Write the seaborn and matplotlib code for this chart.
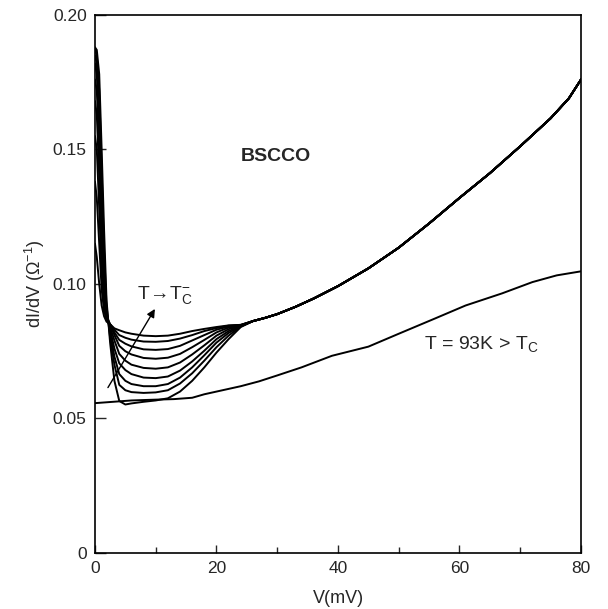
import numpy as np
import pandas as pd
import seaborn as sns
from matplotlib import pyplot as plt

# --- data -----------------------------------------------------------------
# bias grid for the superconducting curves (low-bias part, mV)
v_low = [0, 0.3, 0.7, 1.1, 1.5, 1.9, 2.5, 3.2, 4, 5, 6, 8, 10, 12, 14, 16, 18, 20, 22, 24]

# dI/dV (1/Ohm) for the nine curves below Tc, lowest T first
g_k1 = [0.188, 0.187, 0.178, 0.150, 0.120, 0.094, 0.078, 0.064, 0.0565, 0.0552, 0.0556, 0.0562, 0.0567, 0.0575, 0.0600, 0.0640, 0.0690, 0.0745, 0.0795, 0.0840]
g_k2 = [0.187, 0.185, 0.172, 0.142, 0.112, 0.092, 0.080, 0.070, 0.0625, 0.0605, 0.0598, 0.0595, 0.0597, 0.0605, 0.0630, 0.0668, 0.0715, 0.0765, 0.0808, 0.0842]
g_k3 = [0.185, 0.182, 0.165, 0.135, 0.106, 0.090, 0.082, 0.073, 0.0665, 0.0640, 0.0628, 0.0620, 0.0620, 0.0628, 0.0652, 0.0690, 0.0735, 0.0782, 0.0818, 0.0843]
g_k4 = [0.182, 0.178, 0.158, 0.128, 0.102, 0.089, 0.083, 0.076, 0.0705, 0.0680, 0.0665, 0.0652, 0.0650, 0.0656, 0.0678, 0.0712, 0.0752, 0.0795, 0.0825, 0.0844]
g_k5 = [0.176, 0.172, 0.150, 0.120, 0.098, 0.088, 0.084, 0.079, 0.0740, 0.0715, 0.0700, 0.0688, 0.0685, 0.0690, 0.0708, 0.0738, 0.0772, 0.0808, 0.0832, 0.0845]
g_k6 = [0.168, 0.163, 0.140, 0.112, 0.095, 0.088, 0.085, 0.081, 0.0770, 0.0750, 0.0738, 0.0725, 0.0722, 0.0726, 0.0740, 0.0765, 0.0792, 0.0820, 0.0838, 0.0846]
g_k7 = [0.155, 0.150, 0.128, 0.105, 0.092, 0.087, 0.085, 0.082, 0.0792, 0.0778, 0.0768, 0.0757, 0.0755, 0.0758, 0.0770, 0.0790, 0.0810, 0.0830, 0.0842, 0.0847]
g_k8 = [0.138, 0.132, 0.115, 0.098, 0.090, 0.087, 0.085, 0.083, 0.0810, 0.0800, 0.0793, 0.0786, 0.0785, 0.0788, 0.0797, 0.0810, 0.0825, 0.0836, 0.0845, 0.0848]
g_k9 = [0.115, 0.110, 0.100, 0.092, 0.088, 0.086, 0.085, 0.0835, 0.0828, 0.0820, 0.0815, 0.0808, 0.0806, 0.0808, 0.0815, 0.0825, 0.0833, 0.0840, 0.0846, 0.0848]

# common high-bias tail shared by all curves below Tc
v_tail = [26, 28, 30, 33, 36, 40, 45, 50, 55, 60, 65, 70, 75, 78, 80]
g_tail = [0.0862, 0.0874, 0.0888, 0.0915, 0.0946, 0.0992, 0.1058, 0.1135, 0.1225, 0.1320, 0.1412, 0.1512, 0.1616, 0.1690, 0.1760]

# normal state, T = 93 K
v_93k = [0, 3, 6, 10, 13, 16, 18, 21, 24, 27, 30, 34, 39, 45, 50, 56, 61, 67, 72, 76, 80]
g_93k = [0.0557, 0.0562, 0.0567, 0.0570, 0.0572, 0.0577, 0.0590, 0.0605, 0.0620, 0.0638, 0.0660, 0.0690, 0.0733, 0.0767, 0.0815, 0.0872, 0.0920, 0.0965, 0.1007, 0.1032, 0.1047]

# axis ticks
x_major = [0, 20, 40, 60, 80]
x_minor = [10, 30, 50, 70]
y_ticks = [0, 0.05, 0.10, 0.15, 0.20]
y_ticklabels = ['0', '0.05', '0.10', '0.15', '0.20']

# --- long form table -------------------------------------------------------
frames = []
for i, g in enumerate([g_k1, g_k2, g_k3, g_k4, g_k5, g_k6, g_k7, g_k8, g_k9]):
    frames.append(pd.DataFrame({'V': v_low + v_tail, 'G': g + g_tail, 'curve': 'sc%d' % (i + 1)}))
frames.append(pd.DataFrame({'V': v_93k, 'G': g_93k, 'curve': 'n93'}))
df = pd.concat(frames, ignore_index=True)

# --- plot ------------------------------------------------------------------
sns.set_style("ticks")
plt.rcParams['font.family'] = ['Liberation Sans', 'DejaVu Sans']
plt.rcParams['mathtext.fontset'] = 'custom'
plt.rcParams['mathtext.rm'] = 'Liberation Sans'
plt.rcParams['mathtext.it'] = 'Liberation Sans:italic'

fig = plt.figure(figsize=(6.08, 6.09), dpi=100)
ax = fig.add_axes([0.1562, 0.092, 0.7994, 0.8834])

sns.lineplot(data=df, x='V', y='G', units='curve', estimator=None, sort=False,
             color='black', linewidth=1.4, ax=ax)

ax.set_xlim(0, 80)
ax.set_ylim(0, 0.2)
ax.set_xticks(x_major)
ax.set_xticks(x_minor, minor=True)
ax.set_yticks(y_ticks, y_ticklabels)
ax.tick_params(axis='x', which='major', direction='in', length=6, width=1, labelsize=12.5, pad=6)
ax.tick_params(axis='x', which='minor', direction='in', length=4, width=1)
ax.tick_params(axis='y', which='major', direction='in', length=8, width=1, labelsize=12.5, pad=6)
for s in ax.spines.values():
    s.set_linewidth(1.2)
    s.set_color('black')

ax.set_xlabel('V(mV)', fontsize=13, labelpad=10)
ax.set_ylabel(r'dI/dV ($\Omega^{-1}$)', fontsize=13, labelpad=4)

ax.text(29.75, 0.1473, 'BSCCO', fontsize=14, fontweight='bold', ha='center', va='center')
ax.text(54.2, 0.0758, r'T = 93K > T$_\mathrm{C}$', fontsize=14, ha='left', va='baseline')
ax.text(7.0, 0.0944, r'T$\!\rightarrow\!$T$_\mathrm{C}^{-}$', fontsize=14, ha='left', va='baseline')
ax.annotate('', xy=(10.1, 0.0916), xytext=(1.9, 0.0606),
            arrowprops=dict(arrowstyle='-|>', color='black', lw=1, mutation_scale=12))

fig.savefig('out.png', dpi=100)
